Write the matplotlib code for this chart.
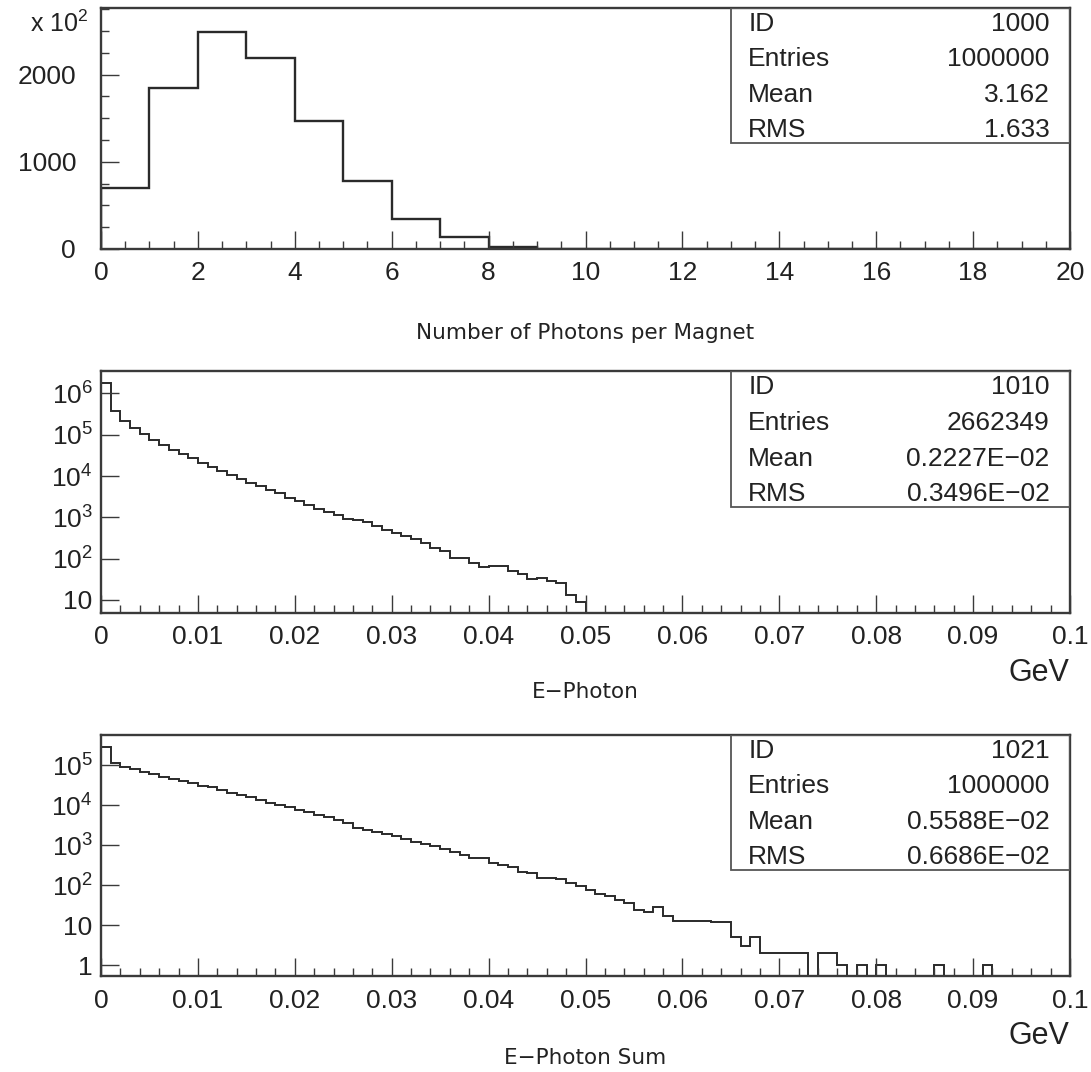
import numpy as np
import matplotlib
matplotlib.use("Agg")
import matplotlib.pyplot as plt
from matplotlib.ticker import MultipleLocator, FixedLocator, LogLocator, NullFormatter
from matplotlib.patches import Rectangle

plt.rcParams['font.family'] = ['Liberation Sans', 'DejaVu Sans']
plt.rcParams['mathtext.fontset'] = 'custom'
plt.rcParams['mathtext.rm'] = 'Liberation Sans'

# ---- data ----
# number of photons per magnet, 20 bins of width 1, counts in units of 10^2
n_edges = np.arange(0, 21, 1)
n_counts = [695, 1851, 2489, 2187, 1469, 775, 347, 134, 27, 2,
            0, 0, 0, 0, 0, 0, 0, 0, 0, 0]

# E-photon, 100 bins 0..0.1 GeV
e_edges = np.linspace(0, 0.1, 101)
e_counts = [1750000, 370000, 220000, 145000, 104000, 76000, 57000, 42000, 34000, 27000,
            21000, 17000, 13000, 10500, 8500, 6900, 5700, 4600, 3800, 3000,
            2500, 1950, 1600, 1350, 1120, 930, 875, 755, 627, 490,
            430, 357, 307, 245, 185, 154, 106, 106, 80, 63,
            66, 66, 50, 42, 33, 34, 29, 26, 13, 9] + [0] * 50

# E-photon sum, 100 bins 0..0.1 GeV
s_edges = np.linspace(0, 0.1, 101)
s_counts = [290000, 117000, 93000, 79000, 69000, 61000, 52000, 46000, 41000, 35600,
            31000, 28000, 24000, 20700, 18000, 16000, 13600, 11700, 10000, 8800,
            7600, 6600, 5700, 5000, 4300, 3600, 2750, 2400, 2200, 1920,
            1700, 1410, 1230, 1070, 960, 790, 690, 570, 475, 475,
            355, 325, 285, 220, 200, 155, 150, 142, 112, 96,
            76, 60, 55, 43, 36, 24, 22, 28, 17, 13,
            13, 13, 13, 12, 12, 5, 3, 5, 2, 2,
            2, 2, 2, 0, 2, 2, 1, 0, 1, 0,
            1, 0, 0, 0, 0, 0, 1, 0, 0, 0,
            0, 1, 0, 0, 0, 0, 0, 0, 0, 0]

n_xticks = list(range(0, 21, 2))
n_xlabels = [str(v) for v in n_xticks]
n_yticks = [0, 1000, 2000]
n_ylabels = ['0', '1000', '2000']

e_xticks = [0, 0.01, 0.02, 0.03, 0.04, 0.05, 0.06, 0.07, 0.08, 0.09, 0.1]
e_xlabels = ['0', '0.01', '0.02', '0.03', '0.04', '0.05', '0.06', '0.07', '0.08', '0.09', '0.1']
e_yticks = [1e1, 1e2, 1e3, 1e4, 1e5, 1e6]
e_ylabels = ['10', r'$\mathrm{10^{2}}$', r'$\mathrm{10^{3}}$', r'$\mathrm{10^{4}}$',
             r'$\mathrm{10^{5}}$', r'$\mathrm{10^{6}}$']
s_yticks = [1, 1e1, 1e2, 1e3, 1e4, 1e5]
s_ylabels = ['1', '10', r'$\mathrm{10^{2}}$', r'$\mathrm{10^{3}}$', r'$\mathrm{10^{4}}$',
             r'$\mathrm{10^{5}}$']

stat_names = ['ID', 'Entries', 'Mean', 'RMS']
stats_n = ['1000', '1000000', '3.162', '1.633']
stats_e = ['1010', '2662349', '0.2227E\u221202', '0.3496E\u221202']
stats_s = ['1021', '1000000', '0.5588E\u221202', '0.6686E\u221202']

W, H = 1091, 1072
fig = plt.figure(figsize=(W / 100, H / 100), dpi=100)

line_col = '#2a2a2a'
spine_col = '#3a3a3a'


def px_axes(x0, y0, x1, y1):
    return fig.add_axes([x0 / W, 1 - y1 / H, (x1 - x0) / W, (y1 - y0) / H])


def style(ax, ypad):
    for s in ax.spines.values():
        s.set_color(spine_col)
        s.set_linewidth(1.7)
    ax.tick_params(which='both', direction='in', top=False, right=False,
                   colors=spine_col, labelcolor='#222222', labelsize=19)
    ax.tick_params(axis='x', which='major', length=13, width=1.0, pad=9)
    ax.tick_params(axis='x', which='minor', length=6, width=1.0)
    ax.tick_params(axis='y', which='major', length=13, width=1.0, pad=ypad)
    ax.tick_params(axis='y', which='minor', length=6, width=1.0)


def stat_box(ax, values):
    ax.add_patch(Rectangle((0.65, 0.44), 0.35, 0.56, transform=ax.transAxes,
                           fill=False, edgecolor='#555555', lw=1.3, zorder=3))
    ys = [0.935, 0.787, 0.638, 0.492]
    for name, val, y in zip(stat_names, values, ys):
        ax.text(0.668, y, name, transform=ax.transAxes, fontsize=19,
                va='center', ha='left', color='#222222')
        ax.text(0.979, y, val, transform=ax.transAxes, fontsize=19,
                va='center', ha='right', color='#222222')


# ---- top: number of photons ----
ax1 = px_axes(101, 8, 1070, 249)
ax1.stairs(n_counts, n_edges, color=line_col, lw=1.7, baseline=0)
ax1.set_xlim(0, 20)
ax1.set_ylim(0, 2763)
ax1.xaxis.set_major_locator(FixedLocator(n_xticks))
ax1.set_xticklabels(n_xlabels)
ax1.xaxis.set_minor_locator(MultipleLocator(0.5))
ax1.yaxis.set_major_locator(FixedLocator(n_yticks))
ax1.set_yticklabels(n_ylabels)
ax1.yaxis.set_minor_locator(MultipleLocator(250))
style(ax1, 18)
stat_box(ax1, stats_n)
fig.text(88 / W, 1 - 24 / H, r'x $\mathrm{10^{2}}$', fontsize=18, ha='right', va='center',
         color='#222222')
fig.text(585 / W, 1 - 333 / H, 'Number of Photons per Magnet', fontsize=15.5,
         family='DejaVu Sans', ha='center', va='center', color='#222222')


def log_panel(y0, y1, counts, edges, ylim, yticks, ylabels, svals, title, title_y, gev_y):
    ax = px_axes(101, y0, 1070, y1)
    ax.set_yscale('log', nonpositive='clip')
    ax.stairs(counts, edges, color=line_col, lw=1.4, baseline=None)
    ax.set_xlim(0, 0.1)
    ax.set_ylim(*ylim)
    ax.xaxis.set_major_locator(FixedLocator(e_xticks))
    ax.set_xticklabels(e_xlabels)
    ax.xaxis.set_minor_locator(MultipleLocator(0.002))
    ax.yaxis.set_major_locator(FixedLocator(yticks))
    ax.set_yticklabels(ylabels)
    ax.yaxis.set_minor_locator(LogLocator(base=10, subs=np.arange(2, 10)))
    ax.yaxis.set_minor_formatter(NullFormatter())
    style(ax, 6)
    stat_box(ax, svals)
    fig.text(1039 / W, 1 - gev_y / H, 'GeV', fontsize=22, ha='center', va='center',
             color='#222222')
    fig.text(585 / W, 1 - title_y / H, title, fontsize=15.5, family='DejaVu Sans',
             ha='center', va='center', color='#222222')
    return ax


log_panel(371, 613, e_counts, e_edges, (4.84, 3.5e6), e_yticks, e_ylabels,
          stats_e, 'E\u2212Photon', 692, 673)
log_panel(735, 976, s_counts, s_edges, (0.54, 5.7e5), s_yticks, s_ylabels,
          stats_s, 'E\u2212Photon Sum', 1058, 1036)

fig.savefig('out.png', dpi=100)
